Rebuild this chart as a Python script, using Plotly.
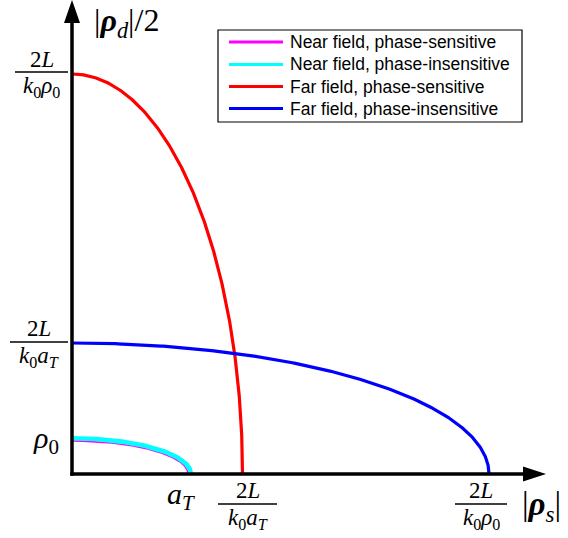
import numpy as np
import plotly.graph_objects as go

# Quarter-ellipse boundaries of the resolvable region (axis units)
names = [
    "Near field, phase-sensitive",
    "Near field, phase-insensitive",
    "Far field, phase-sensitive",
    "Far field, phase-insensitive",
]
colors = ["#ff00ff", "#00ffff", "#ff0000", "#0000ff"]
line_widths = [1.6, 4.6, 3.2, 3.2]
semi_x = [1.16, 1.19, 1.705, 4.17]   # extent along |rho_s|
semi_y = [0.33, 0.357, 4.00, 1.31]   # extent along |rho_d|/2

# Characteristic scales marked on the axes
x_tick_vals = [1.19, 1.705, 4.17]
x_tick_text = [
    ("<i>a</i><sub><i>T</i></sub>", None),
    ("2<i>L</i>", "<i>k</i><sub>0</sub><i>a</i><sub><i>T</i></sub>"),
    ("2<i>L</i>", "<i>k</i><sub>0</sub><i>ρ</i><sub>0</sub>"),
]
y_tick_vals = [0.34, 1.31, 4.00]
y_tick_text = [
    ("<i>ρ</i><sub>0</sub>", None),
    ("2<i>L</i>", "<i>k</i><sub>0</sub><i>a</i><sub><i>T</i></sub>"),
    ("2<i>L</i>", "<i>k</i><sub>0</sub><i>ρ</i><sub>0</sub>"),
]

# Figure geometry (pixels)
W, H = 568, 538
ML, MR, MT, MB = 72, 21, 0, 64
PW, PH = W - ML - MR, H - MT - MB
XMAX, YMAX = 4.75, 4.74

SERIF = "Liberation Serif"
SANS = "Liberation Sans"


def xpix(v):
    return ML + v / XMAX * PW


def ypix(v):
    return MT + (1 - v / YMAX) * PH


def px2paper_x(px):
    return (px - ML) / PW


def px2paper_y(py):
    return (MT + PH - py) / PH


fig = go.Figure()

t = np.linspace(0, np.pi / 2, 300)
for name, c, lw, a, b in zip(names, colors, line_widths, semi_x, semi_y):
    fig.add_trace(go.Scatter(
        x=a * np.cos(t), y=b * np.sin(t), mode="lines",
        line=dict(color=c, width=lw), name=name, showlegend=False,
        hoverinfo="skip", cliponaxis=False,
    ))

shapes = []
annotations = []

# Axes with arrow heads
axis_w = 3.5
shapes.append(dict(type="line", xref="paper", yref="paper",
                   x0=0, x1=0, y0=px2paper_y(MT + PH + axis_w / 2),
                   y1=px2paper_y(18), line=dict(color="black", width=axis_w)))
shapes.append(dict(type="line", xref="paper", yref="paper",
                   x0=px2paper_x(ML - axis_w / 2), x1=px2paper_x(ML + PW - 18),
                   y0=0, y1=0, line=dict(color="black", width=axis_w)))
tip_y, base_y = 0, 23
shapes.append(dict(
    type="path", xref="paper", yref="paper",
    path=(f"M {px2paper_x(ML)} {px2paper_y(tip_y)} "
          f"L {px2paper_x(ML - 8)} {px2paper_y(base_y)} "
          f"L {px2paper_x(ML + 8)} {px2paper_y(base_y)} Z"),
    fillcolor="black", line=dict(color="black", width=0)))
tip_x, base_x = ML + PW - 1, ML + PW - 24
shapes.append(dict(
    type="path", xref="paper", yref="paper",
    path=(f"M {px2paper_x(tip_x)} {px2paper_y(MT + PH)} "
          f"L {px2paper_x(base_x)} {px2paper_y(MT + PH - 7.5)} "
          f"L {px2paper_x(base_x)} {px2paper_y(MT + PH + 7.5)} Z"),
    fillcolor="black", line=dict(color="black", width=0)))


def text(px, py, s, size, xanchor="center", yanchor="middle", family=SERIF):
    annotations.append(dict(
        xref="paper", yref="paper", x=px2paper_x(px), y=px2paper_y(py),
        text=s, showarrow=False, xanchor=xanchor, yanchor=yanchor,
        font=dict(family=family, size=size, color="black")))


def fraction(cx, bar_y, num, den, half_w, size=23):
    shapes.append(dict(type="line", xref="paper", yref="paper",
                       x0=px2paper_x(cx - half_w), x1=px2paper_x(cx + half_w),
                       y0=px2paper_y(bar_y), y1=px2paper_y(bar_y),
                       line=dict(color="black", width=1.6)))
    text(cx, bar_y - 13, num, size)
    text(cx, bar_y + 15, den, size)


# x-axis marks (label centre offsets in px)
x_label_dx = [-10, 5, -8]
x_half_w = [0, 29.5, 26]
for v, (num, den), dx, hw in zip(x_tick_vals, x_tick_text, x_label_dx, x_half_w):
    cx = xpix(v) + dx
    if den is None:
        text(cx, 496, num, 30)
    else:
        fraction(cx, 504, num, den, hw)

# y-axis marks
y_label_cx = [46, 39, 41.5]
y_half_w = [0, 29, 26.5]
y_label_dy = [0, -1, -2]
for v, (num, den), cx, hw, dy in zip(y_tick_vals, y_tick_text, y_label_cx, y_half_w, y_label_dy):
    py = ypix(v) + dy
    if den is None:
        text(cx, py, num, 30)
    else:
        fraction(cx, py, num, den, hw)

# Axis titles
text(92, 0, "|<b><i>ρ</i></b><sub><i>d</i></sub>|/2", 32, xanchor="left",
     yanchor="top")
text(520, 506, "|<b><i>ρ</i></b><sub><i>s</i></sub>|", 33, xanchor="left")

# Legend box
LEG_L, LEG_R, LEG_T, LEG_B = 218, 522, 30, 122
shapes.append(dict(type="rect", xref="paper", yref="paper",
                   x0=px2paper_x(LEG_L), x1=px2paper_x(LEG_R),
                   y0=px2paper_y(LEG_B), y1=px2paper_y(LEG_T),
                   fillcolor="white", line=dict(color="black", width=1.2),
                   layer="above"))
row_y = [42, 64.5, 86.5, 108.5]
for name, c, ry in zip(names, colors, row_y):
    shapes.append(dict(type="line", xref="paper", yref="paper",
                       x0=px2paper_x(229), x1=px2paper_x(283),
                       y0=px2paper_y(ry), y1=px2paper_y(ry),
                       line=dict(color=c, width=3), layer="above"))
    text(288, ry, name, 17.5, xanchor="left", family=SANS)

fig.update_layout(
    width=W, height=H,
    margin=dict(l=ML, r=MR, t=MT, b=MB, pad=0),
    paper_bgcolor="white", plot_bgcolor="white",
    xaxis=dict(range=[0, XMAX], visible=False, fixedrange=True),
    yaxis=dict(range=[0, YMAX], visible=False, fixedrange=True),
    shapes=shapes, annotations=annotations,
    showlegend=False,
)

fig.write_html("out.html")
